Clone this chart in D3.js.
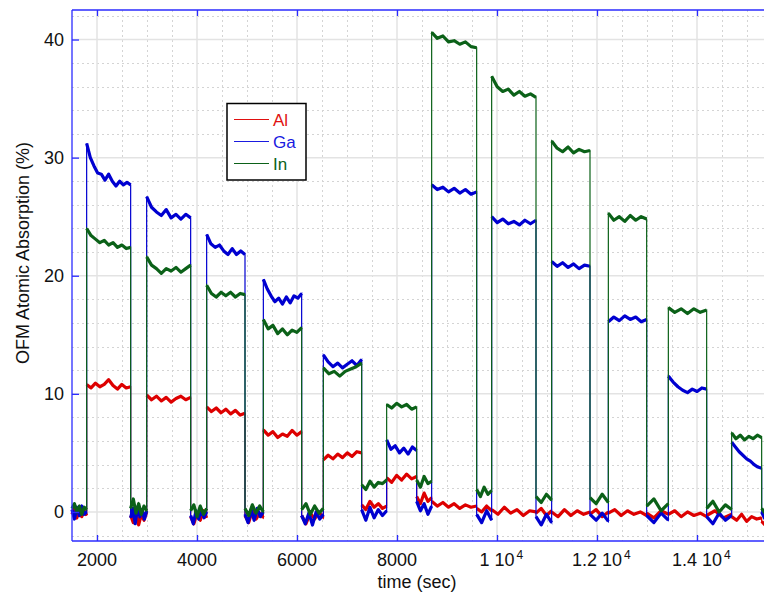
<!DOCTYPE html>
<html>
<head>
<meta charset="utf-8">
<script src="https://cdn.jsdelivr.net/npm/d3@7"></script>
<style>
  body { margin: 0; background: #fff; }
  svg { font-family: "Liberation Sans", Arial, sans-serif; }
</style>
</head>
<body>
<svg width="764" height="595"></svg>
<script>
// segment boundaries (sec): baseline / plateau alternate
const edges = [1500, 1793, 2673, 2993, 3873, 4193, 4960, 5327, 6093, 6527, 7293, 7793,
  8393, 8693, 9593, 9893, 10780, 11093, 11860, 12227, 12993, 13427, 14193, 14693, 15293, 15360];

// readings per segment (%), evenly spread inside each segment
const alValues = [
  [-0.2, 0.4, -0.5, 0.2, -0.4, 0.1, -0.3],
  [10.8, 10.5, 10.9, 10.6, 10.8, 11.2, 10.7, 10.4, 10.8, 10.5, 10.6],
  [-0.3, -0.9, 0.1, -1.1, -0.2, -0.7, 0.0],
  [9.9, 9.5, 9.8, 9.4, 9.7, 9.3, 9.6, 9.8, 9.5, 9.7],
  [-0.4, -1.0, -0.1, -0.7, 0.1, -0.5],
  [8.9, 8.5, 8.8, 8.4, 8.7, 8.3, 8.6, 8.2, 8.35],
  [-0.3, -0.9, 0.1, -0.6, -0.1, -0.5],
  [6.95, 6.5, 6.8, 6.3, 6.6, 6.4, 6.9, 6.5, 6.8],
  [-0.3, -1.0, -0.1, -0.6, 0.0, -0.5],
  [4.4, 4.8, 4.5, 4.9, 4.6, 5.0, 4.7, 5.1, 5.0],
  [0.6, 0.2, 0.9, 0.4, 0.7, 0.3, 0.5],
  [2.9, 2.5, 3.1, 2.7, 3.2, 2.8, 3.0],
  [1.3, 0.7, 1.6, 0.9, 1.2],
  [0.9, 0.5, 0.8, 0.4, 0.7, 0.3, 0.6, 0.4, 0.5],
  [0.3, 0.0, 0.5, 0.1],
  [0.2, -0.2, 0.4, -0.1, 0.2, -0.3, 0.1, 0.0],
  [-0.1, 0.3, -0.3, 0.1],
  [0.0, -0.4, 0.2, -0.3, 0.1, -0.2, 0.0],
  [-0.2, 0.2, -0.4, 0.0],
  [-0.1, 0.2, -0.3, 0.1, -0.2, 0.0, -0.3],
  [-0.1, -0.5, 0.1, -0.2],
  [-0.2, 0.1, -0.4, 0.0, -0.3, -0.1, -0.4],
  [-0.3, 0.1, -0.5, -0.2],
  [-0.4, -0.7, -0.2, -0.8, -0.4, -0.6, -0.5],
  [-0.8, -1.1]
];
const gaValues = [
  [0.2, -0.6, 0.4, -0.3, 0.5, -0.2, 0.0],
  [31.2, 30.0, 29.3, 28.7, 28.6, 28.1, 28.6, 28.0, 27.6, 28.0, 27.7, 27.9, 27.7],
  [-0.5, 0.3, -1.0, 0.4, -0.4, 0.2, -0.6, 0.1],
  [26.7, 25.8, 25.4, 25.1, 25.6, 24.9, 25.2, 24.8, 25.2, 24.9],
  [-0.3, -1.0, 0.1, -0.6, 0.2, -0.5, 0.0],
  [23.5, 22.7, 22.4, 22.6, 22.1, 21.8, 22.3, 21.8, 22.1, 21.8],
  [-0.2, -0.9, 0.2, -0.7, 0.3, -0.4, 0.0],
  [19.7, 18.9, 18.3, 17.8, 18.1, 17.6, 18.2, 17.7, 18.3, 18.1, 18.5],
  [-0.3, -1.0, -0.1, -1.1, 0.0, -0.6, -0.2],
  [13.3, 12.7, 12.3, 12.6, 12.2, 12.5, 12.8, 12.4, 12.9],
  [0.2, -0.7, 0.4, -0.5, 0.2, -0.3, 0.1],
  [6.1, 5.3, 5.6, 5.0, 5.4, 4.9, 5.5, 5.2],
  [0.9, 0.1, 0.7, -0.2, 0.5],
  [27.7, 27.3, 27.5, 27.1, 27.4, 27.0, 27.3, 26.9, 27.1],
  [-0.2, -0.9, 0.1, -0.7],
  [25.0, 24.5, 24.8, 24.4, 24.6, 24.3, 24.7, 24.4, 24.7],
  [-0.4, -1.1, -0.2, -0.9],
  [21.2, 20.8, 21.1, 20.7, 21.0, 20.6, 20.9, 20.8],
  [-0.2, -0.7, -0.1, -0.8],
  [16.1, 16.5, 16.2, 16.6, 16.3, 16.5, 16.1, 16.3],
  [-0.3, -0.9, -0.1, -0.7],
  [11.5, 11.0, 10.6, 10.3, 10.1, 10.4, 10.2, 10.5, 10.4],
  [-0.4, -1.0, -0.1, -0.7, -0.3],
  [5.9, 5.5, 5.1, 4.8, 4.5, 4.3, 4.0, 3.8, 3.7],
  [0.0, -0.6]
];
const inValues = [
  [0.3, 0.7, 0.0, 0.5, -0.2, 0.4, 0.2],
  [24.0, 23.4, 23.1, 22.8, 23.0, 22.6, 22.8, 22.4, 22.6, 22.3, 22.4],
  [0.3, 1.1, -0.1, 0.7, -0.2, 0.5, 0.1],
  [21.6, 20.9, 20.6, 20.2, 20.6, 20.4, 20.7, 20.3, 20.6, 20.9],
  [0.1, 0.6, -0.4, 0.5, -0.2, 0.3],
  [19.2, 18.5, 18.2, 18.6, 18.3, 18.6, 18.2, 18.5, 18.4],
  [0.3, -0.3, 0.6, -0.1, 0.5, 0.0],
  [16.3, 15.5, 15.8, 15.1, 15.5, 15.0, 15.4, 15.2, 15.6],
  [0.2, 0.7, -0.2, 0.5, -0.1, 0.3],
  [12.2, 11.7, 11.9, 11.5, 11.9, 12.1, 12.3, 12.6],
  [2.3, 1.9, 2.6, 2.1, 2.5, 2.4, 2.7],
  [9.1, 8.8, 9.2, 8.9, 9.1, 8.7, 8.9],
  [2.7, 2.1, 3.0, 2.4, 2.6],
  [40.6, 40.1, 40.3, 39.8, 39.9, 39.6, 39.8, 39.4, 39.3],
  [1.9, 1.3, 2.1, 1.5, 1.8],
  [36.9, 36.0, 35.6, 35.8, 35.3, 35.6, 35.2, 35.4, 35.1],
  [1.3, 0.8, 1.5, 1.0],
  [31.4, 30.8, 30.5, 30.9, 30.4, 30.7, 30.5, 30.6],
  [1.2, 0.7, 1.5, 0.8],
  [25.3, 24.7, 25.0, 24.6, 25.1, 24.7, 25.0, 24.8],
  [0.5, 1.1, 0.1, 0.7],
  [17.3, 16.9, 17.2, 16.8, 17.2, 16.9, 17.1],
  [0.3, 0.9, 0.0, 0.6, 0.2],
  [6.7, 6.2, 6.5, 6.1, 6.4, 6.2, 6.5, 6.3],
  [0.3, -0.1]
];

const seriesNames = ["Al", "Ga", "In"];
const seriesColors = ["#dd0000", "#0000d0", "#0b6118"];
const legendColors = ["#e01010", "#1a1ae0", "#0b6118"];

const xMajor = [2000, 4000, 6000, 8000, 10000, 12000, 14000];
const xLabels = [["2000", ""], ["4000", ""], ["6000", ""], ["8000", ""], ["1 10", "4"], ["1.2 10", "4"], ["1.4 10", "4"]];
const yMajor = [0, 10, 20, 30, 40];

const svg = d3.select("svg");
const plotLeft = 72, plotRight = 764, plotTop = 10, plotBottom = 541;

const x = d3.scaleLinear().domain([1500, 15340]).range([plotLeft, plotRight]);
const y = d3.scaleLinear().domain([-2.46, 42.5]).range([plotBottom, plotTop]);

// grid
const xMinor = d3.range(2500, 15340, 500).filter(v => v % 2000 !== 0);
const yMinor = d3.range(-2, 43, 2).filter(v => v % 10 !== 0);
const grid = svg.append("g");
grid.selectAll(".xm").data(xMinor).enter().append("line")
  .attr("x1", d => Math.round(x(d)) + 0.5).attr("x2", d => Math.round(x(d)) + 0.5)
  .attr("y1", plotTop).attr("y2", plotBottom)
  .attr("stroke", "#d4d4d4").attr("stroke-dasharray", "2,3");
grid.selectAll(".ym").data(yMinor).enter().append("line")
  .attr("y1", d => Math.round(y(d)) + 0.5).attr("y2", d => Math.round(y(d)) + 0.5)
  .attr("x1", plotLeft).attr("x2", plotRight)
  .attr("stroke", "#d4d4d4").attr("stroke-dasharray", "2,3");
grid.selectAll(".xM").data(xMajor).enter().append("line")
  .attr("x1", d => x(d)).attr("x2", d => x(d))
  .attr("y1", plotTop).attr("y2", plotBottom)
  .attr("stroke", "#e3e3e3").attr("stroke-width", 1.5);
grid.selectAll(".yM").data(yMajor).enter().append("line")
  .attr("y1", d => y(d)).attr("y2", d => y(d))
  .attr("x1", plotLeft).attr("x2", plotRight)
  .attr("stroke", "#e3e3e3").attr("stroke-width", 1.5);

// data
const plot = svg.append("g");
const line = d3.line().x(d => x(d[0])).y(d => y(d[1]));
const allSeries = [alValues, gaValues, inValues];

allSeries.forEach((segs, si) => {
  const segPoints = segs.map((vals, i) => {
    const t0 = edges[i], t1 = edges[i + 1];
    return vals.map((v, k) => [t0 + (t1 - t0) * k / (vals.length - 1), v]);
  });
  // thin trace including the vertical steps
  plot.append("path")
    .attr("d", line(segPoints.flat()))
    .attr("fill", "none")
    .attr("stroke", seriesColors[si])
    .attr("stroke-width", 1.2);
  // noisy plateau bands
  plot.selectAll(null).data(segPoints).enter().append("path")
    .attr("d", d => line(d))
    .attr("fill", "none")
    .attr("stroke", seriesColors[si])
    .attr("stroke-width", 3.2)
    .attr("stroke-linejoin", "round");
});

// frame and ticks
const axisColor = "#2b2bff";
const frame = svg.append("g").attr("stroke", axisColor).attr("stroke-width", 1.3);
frame.append("line").attr("x1", plotLeft).attr("x2", plotLeft).attr("y1", plotTop).attr("y2", plotBottom);
frame.append("line").attr("x1", plotLeft).attr("x2", plotRight).attr("y1", plotTop).attr("y2", plotTop);
frame.append("line").attr("x1", plotLeft).attr("x2", plotRight).attr("y1", plotBottom).attr("y2", plotBottom);

svg.append("g").attr("transform", `translate(0,${plotBottom})`)
  .call(d3.axisBottom(x).tickValues(xMajor).tickSize(-6).tickFormat(""))
  .call(g => g.select(".domain").remove())
  .selectAll("line").attr("stroke", axisColor).attr("stroke-width", 1.3);
svg.append("g").attr("transform", `translate(0,${plotTop})`)
  .call(d3.axisTop(x).tickValues(xMajor).tickSize(-6).tickFormat(""))
  .call(g => g.select(".domain").remove())
  .selectAll("line").attr("stroke", axisColor).attr("stroke-width", 1.3);

const yAxisG = svg.append("g").attr("transform", `translate(${plotLeft},0)`)
  .call(d3.axisLeft(y).tickValues(yMajor).tickSize(-7).tickPadding(8))
  .call(g => g.select(".domain").remove());
yAxisG.selectAll("line").attr("stroke", axisColor).attr("stroke-width", 1.3);
yAxisG.selectAll("text")
  .attr("x", -8)
  .attr("font-size", 18).attr("fill", "#111")
  .attr("font-family", "Liberation Sans, Arial, sans-serif");

// x tick labels, base text centred on tick with a raised exponent
const xl = svg.append("g").attr("font-size", 18).attr("fill", "#111");
xMajor.forEach((v, i) => {
  const t = xl.append("text").attr("y", 566);
  const base = t.append("tspan").text(xLabels[i][0]);
  const w = base.node().getComputedTextLength();
  t.attr("x", x(v) - w / 2);
  if (xLabels[i][1]) {
    t.append("tspan").attr("dx", 2).attr("dy", -7).attr("font-size", 12).text(xLabels[i][1]);
  }
});

svg.append("text")
  .attr("x", 417).attr("y", 588)
  .attr("text-anchor", "middle").attr("font-size", 18).attr("fill", "#111")
  .text("time (sec)");

svg.append("text")
  .attr("transform", "translate(29,253) rotate(-90)")
  .attr("text-anchor", "middle").attr("font-size", 18).attr("fill", "#111")
  .text("OFM Atomic Absorption (%)");

// legend
const lg = svg.append("g");
lg.append("rect")
  .attr("x", 227).attr("y", 103.5).attr("width", 79).attr("height", 76.5)
  .attr("fill", "#fff").attr("stroke", "#000").attr("stroke-width", 1.5);
seriesNames.forEach((name, i) => {
  const yy = 119.5 + i * 22;
  lg.append("line")
    .attr("x1", 234).attr("x2", 269).attr("y1", yy).attr("y2", yy)
    .attr("stroke", legendColors[i]).attr("stroke-width", 1);
  lg.append("text")
    .attr("x", 273).attr("y", yy + 6)
    .attr("font-size", 17).attr("fill", legendColors[i])
    .text(name);
});
</script>
</body>
</html>
